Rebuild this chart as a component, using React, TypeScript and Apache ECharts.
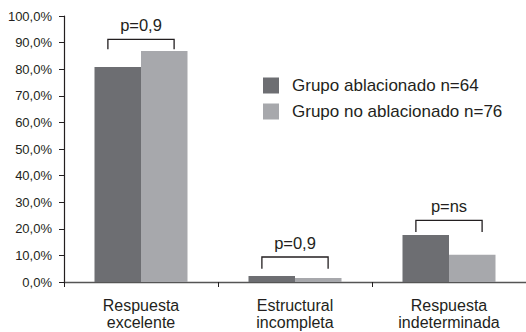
import React, { useEffect, useRef } from "react";
import * as echarts from "echarts";

const categories = ["Respuesta\nexcelente", "Estructural\nincompleta", "Respuesta\nindeterminada"];
const seriesNames = ["Grupo ablacionado n=64", "Grupo no ablacionado n=76"];
const ablacionado = [80.8, 2.3, 17.7];
const noAblacionado = [86.8, 1.5, 10.2];
const bracketTop = [91.2, 9.4, 23.2];
const bracketLeg = [87.5, 5.0, 18.8];
const pLabels = ["p=0,9", "p=0,9", "p=ns"];

const FONT = "Liberation Sans";
const INK = "#231f20";

export default function App() {
  const ref = useRef<HTMLDivElement>(null);
  useEffect(() => {
    document.body.style.margin = "0";
    if (!ref.current) return;
    const chart = echarts.init(ref.current, null, { renderer: "svg" });
    chart.setOption({
      animation: false,
      grid: { left: 64, top: 16, right: -1, bottom: 50 },
      legend: {
        data: seriesNames,
        orient: "vertical",
        left: 263,
        top: 77,
        padding: 0,
        itemWidth: 16,
        itemHeight: 16,
        itemGap: 9,
        icon: "rect",
        textStyle: { fontFamily: FONT, fontSize: 17, color: INK, padding: [0, 0, 0, 8] },
      },
      xAxis: {
        type: "category",
        data: categories,
        axisLine: { lineStyle: { color: "#555", width: 1.3 } },
        axisTick: { show: true, length: 5, lineStyle: { color: INK } },
        axisLabel: { fontFamily: FONT, fontSize: 16, lineHeight: 17, color: INK, margin: 15 },
      },
      yAxis: {
        type: "value",
        min: 0,
        max: 100,
        interval: 10,
        splitLine: { show: false },
        axisLine: { show: true, lineStyle: { color: INK, width: 1.2 } },
        axisTick: { show: true, length: 5, lineStyle: { color: INK } },
        axisLabel: {
          fontFamily: FONT,
          fontSize: 13,
          color: INK,
          margin: 12,
          formatter: (v: number) => v.toFixed(1).replace(".", ",") + "%",
        },
      },
      series: [
        {
          name: seriesNames[0],
          type: "bar",
          data: ablacionado,
          barWidth: 46.5,
          barGap: "0%",
          itemStyle: { color: "#6d6e72" },
        },
        {
          name: seriesNames[1],
          type: "bar",
          data: noAblacionado,
          barWidth: 46.5,
          barGap: "0%",
          itemStyle: { color: "#a7a8ac" },
        },
        {
          type: "custom",
          data: bracketTop.map((t, i) => [i, t, bracketLeg[i]]),
          encode: { x: 0, y: [1, 2] },
          z: 5,
          renderItem: (params: any, api: any) => {
            const idx = api.value(0);
            const top = api.coord([idx, api.value(1)]);
            const leg = api.coord([idx, api.value(2)]);
            const band = api.size([1, 0])[0];
            const half = band * 0.215;
            const x0 = top[0] - half;
            const x1 = top[0] + half;
            return {
              type: "group",
              children: [
                {
                  type: "polyline",
                  shape: { points: [[x0, leg[1]], [x0, top[1]], [x1, top[1]], [x1, leg[1]]] },
                  style: { stroke: INK, lineWidth: 1.3, fill: null },
                },
                {
                  type: "text",
                  style: {
                    text: pLabels[params.dataIndex],
                    x: top[0],
                    y: top[1] - 14,
                    align: "center",
                    verticalAlign: "middle",
                    fontFamily: FONT,
                    fontSize: 16.5,
                    fill: INK,
                  },
                },
              ],
            };
          },
        },
      ],
    });
    return () => chart.dispose();
  }, []);
  return <div ref={ref} style={{ width: 526, height: 332 }} />;
}
